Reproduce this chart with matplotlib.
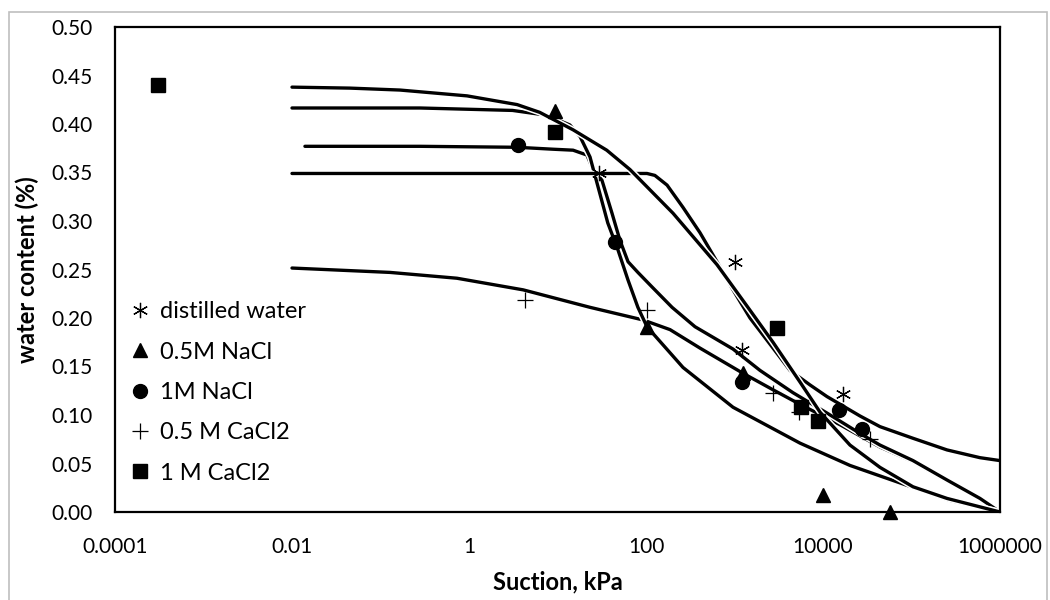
import matplotlib
matplotlib.use("Agg")
import matplotlib.pyplot as plt
import matplotlib.patheffects as pe
from matplotlib.patches import Rectangle

# ---- measured points ----
dw_x = [29.5, 1000, 1200, 16800]
dw_y = [0.350, 0.258, 0.167, 0.122]
na05_x = [9.4, 102, 1250, 10000, 57000]
na05_y = [0.413, 0.191, 0.143, 0.018, 0.0]
na1_x = [3.6, 45, 1200, 15100, 27500]
na1_y = [0.378, 0.278, 0.134, 0.105, 0.086]
ca05_x = [4.3, 102, 2720, 5400, 34000]
ca05_y = [0.219, 0.208, 0.123, 0.103, 0.075]
ca1_x = [3.06e-4, 9.4, 3020, 5600, 8700]
ca1_y = [0.440, 0.392, 0.190, 0.108, 0.094]

# ---- fitted curves ----
fit_dw_x = [0.01, 1, 30.2, 85.5, 102.6, 126, 173, 262, 407, 634, 962, 1497, 2723,
            4236, 7130, 11090, 26180, 44060, 104000, 251800, 594000, 1e6]
fit_dw_y = [0.349, 0.349, 0.349, 0.349, 0.349, 0.347, 0.337, 0.314, 0.288, 0.258, 0.229,
            0.200, 0.169, 0.146, 0.131, 0.119, 0.099, 0.088, 0.076, 0.064, 0.056, 0.053]

fit_na05_x = [0.01, 0.279, 3.1, 7.6, 13.8, 18, 23.3, 26.5, 37, 48.3, 62.7, 81, 102.6,
              164, 262, 962, 5495, 20180, 74130, 272000, 1e6]
fit_na05_y = [0.4165, 0.4165, 0.414, 0.409, 0.399, 0.387, 0.366, 0.347, 0.298, 0.270,
              0.239, 0.211, 0.191, 0.170, 0.149, 0.108, 0.071, 0.048, 0.030, 0.012, 0.0]

fit_na1_x = [0.014, 0.279, 3.5, 8.9, 15, 21.5, 25.2, 31.8, 41.3, 50.8, 62.7, 81, 117,
             197, 358, 962, 1941, 4580, 11090, 26180, 44060, 104000, 251800, 594000, 1e6]
fit_na1_y = [0.377, 0.377, 0.376, 0.374, 0.373, 0.368, 0.353, 0.342, 0.308, 0.280,
             0.258, 0.247, 0.232, 0.211, 0.191, 0.168, 0.146, 0.123, 0.102, 0.081,
             0.069, 0.053, 0.033, 0.014, 0.0]

fit_ca05_x = [0.01, 0.128, 0.73, 4.1, 23.3, 92.5, 187, 407, 1248, 2723, 5495, 15560,
              44060, 104000, 251800, 594000, 1e6]
fit_ca05_y = [0.2515, 0.247, 0.241, 0.229, 0.211, 0.198, 0.188, 0.169, 0.143, 0.126,
              0.111, 0.090, 0.067, 0.052, 0.032, 0.014, 0.0]

fit_ca1_x = [0.01, 0.045, 0.166, 0.95, 3.5, 6.3, 15, 36, 66, 202, 634, 1497, 2723,
             5495, 9250, 20180, 44060, 104000, 251800, 1e6]
fit_ca1_y = [0.438, 0.437, 0.435, 0.429, 0.420, 0.412, 0.394, 0.373, 0.353, 0.308,
             0.255, 0.208, 0.175, 0.134, 0.103, 0.069, 0.046, 0.026, 0.014, 0.0]

labels = ["distilled water", "0.5M NaCl", "1M NaCl", "0.5 M CaCl2", "1 M CaCl2"]
xticks = [0.0001, 0.01, 1, 100, 10000, 1000000]
xticklabels = ["0.0001", "0.01", "1", "100", "10000", "1000000"]
yticks = [0.00, 0.05, 0.10, 0.15, 0.20, 0.25, 0.30, 0.35, 0.40, 0.45, 0.50]

plt.rcParams['font.family'] = ['Lato', 'DejaVu Sans']

fig = plt.figure(figsize=(10.5, 6), dpi=100)
fig.patches.append(Rectangle((9 / 1050, -0.1), (1047 - 9) / 1050, (600 - 12) / 600 + 0.1,
                             transform=fig.transFigure, fill=False,
                             edgecolor='#bfbfbf', linewidth=1.2))
ax = fig.add_axes([115 / 1050, 88 / 600, 885 / 1050, 485 / 600])

halo = [pe.Stroke(linewidth=4.6, foreground='white'), pe.Normal()]
for fx, fy in [(fit_ca05_x, fit_ca05_y), (fit_na1_x, fit_na1_y), (fit_na05_x, fit_na05_y),
               (fit_dw_x, fit_dw_y), (fit_ca1_x, fit_ca1_y)]:
    ax.plot(fx, fy, color='black', lw=2.4, solid_joinstyle='round',
            solid_capstyle='round', path_effects=halo, zorder=2)

ax.plot(dw_x, dw_y, ls='none', marker=(6, 2, 0), ms=11, mec='black', mew=0.9,
        label=labels[0], zorder=3)
ax.plot(na05_x, na05_y, ls='none', marker='^', ms=10, color='black', label=labels[1],
        zorder=3, clip_on=False)
ax.plot(na1_x, na1_y, ls='none', marker='o', ms=10, color='black', label=labels[2], zorder=3)
ax.plot(ca05_x, ca05_y, ls='none', marker='+', ms=12, mec='black', mew=0.9,
        label=labels[3], zorder=3)
ax.plot(ca1_x, ca1_y, ls='none', marker='s', ms=9.5, color='black', label=labels[4], zorder=3)

ax.set_xscale('log')
ax.set_xlim(1e-4, 1e6)
ax.set_ylim(0, 0.5)
ax.set_xticks(xticks)
ax.set_xticklabels(xticklabels)
ax.minorticks_off()
ax.set_yticks(yticks)
ax.set_yticklabels([f"{v:.2f}" for v in yticks])
ax.tick_params(axis='both', length=0, labelsize=15, colors='black')
ax.tick_params(axis='x', pad=18)
ax.tick_params(axis='y', pad=16)
for s in ax.spines.values():
    s.set_linewidth(1.6)

ax.set_xlabel("Suction, kPa", fontsize=17, fontweight='bold', labelpad=10)
ax.set_ylabel("water content (%)", fontsize=17, fontweight='bold', labelpad=9)

leg = ax.legend(loc='upper left', bbox_to_anchor=(0.007, 0.454), frameon=False,
                fontsize=17, handlelength=0.8, handletextpad=0.45, labelspacing=0.82,
                borderaxespad=0.0)

fig.savefig("out.png", dpi=100)
